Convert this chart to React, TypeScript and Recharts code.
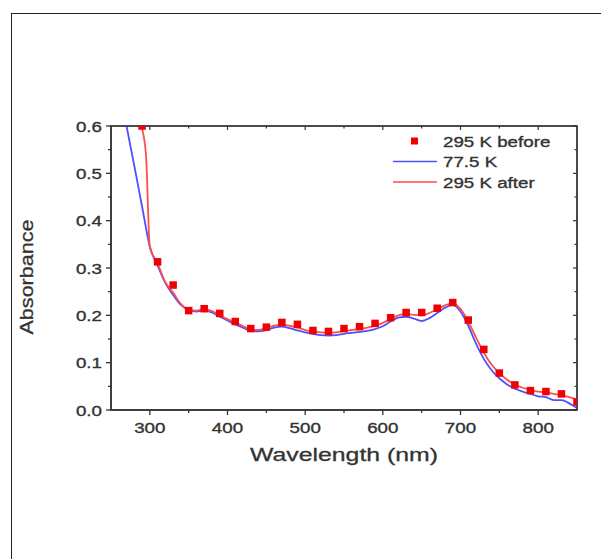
import { ComposedChart, Legend, Line, ReferenceArea, Scatter, XAxis, YAxis } from 'recharts'

// wavelength (nm) / absorbance
const beforeNm = [290, 310, 330, 350, 370, 390, 410, 430, 450, 470, 490, 510, 530, 550, 570, 590, 610, 630, 650, 670, 690, 710, 730, 750, 770, 790, 810, 830, 850]
const beforeAbs = [0.6, 0.313, 0.264, 0.21, 0.214, 0.204, 0.187, 0.172, 0.175, 0.185, 0.181, 0.168, 0.166, 0.172, 0.176, 0.183, 0.195, 0.206, 0.206, 0.215, 0.227, 0.19, 0.128, 0.078, 0.053, 0.041, 0.039, 0.034, 0.017]

const coldNm = [270, 280, 290, 300, 310, 320, 330, 340, 350, 360, 370, 380, 390, 400, 410, 420, 430, 440, 450, 460, 470, 480, 490, 500, 510, 520, 530, 540, 550, 560, 570, 580, 590, 600, 610, 620, 630, 640, 650, 660, 670, 680, 690, 700, 710, 720, 730, 740, 750, 760, 770, 780, 790, 800, 810, 820, 830, 840, 850]
const coldAbs = [0.6, 0.516, 0.43, 0.345, 0.305, 0.268, 0.243, 0.222, 0.211, 0.208, 0.21, 0.206, 0.197, 0.189, 0.181, 0.174, 0.167, 0.166, 0.169, 0.174, 0.176, 0.173, 0.168, 0.164, 0.161, 0.158, 0.157, 0.158, 0.161, 0.163, 0.165, 0.167, 0.171, 0.177, 0.187, 0.195, 0.197, 0.193, 0.188, 0.194, 0.205, 0.216, 0.222, 0.208, 0.178, 0.14, 0.108, 0.084, 0.067, 0.054, 0.045, 0.039, 0.034, 0.029, 0.027, 0.021, 0.021, 0.014, 0.004]

const afterNm = [289, 295, 300, 310, 320, 330, 340, 350, 360, 370, 380, 390, 400, 410, 420, 430, 440, 450, 460, 470, 480, 490, 500, 510, 520, 530, 540, 550, 560, 570, 580, 590, 600, 610, 620, 630, 640, 650, 660, 670, 680, 690, 700, 710, 720, 730, 740, 750, 760, 770, 780, 790, 800, 810, 820, 830, 840, 850]
const afterAbs = [0.6, 0.54, 0.345, 0.31, 0.27, 0.248, 0.224, 0.212, 0.21, 0.213, 0.209, 0.2, 0.192, 0.185, 0.177, 0.17, 0.169, 0.173, 0.178, 0.18, 0.178, 0.174, 0.169, 0.166, 0.164, 0.163, 0.164, 0.167, 0.169, 0.171, 0.174, 0.178, 0.184, 0.193, 0.2, 0.203, 0.201, 0.2, 0.205, 0.213, 0.221, 0.226, 0.214, 0.187, 0.153, 0.121, 0.096, 0.078, 0.064, 0.054, 0.047, 0.042, 0.039, 0.037, 0.034, 0.031, 0.027, 0.021]

const xTicks = [300, 350, 400, 450, 500, 550, 600, 650, 700, 750, 800]
const yTicks = [0, 0.05, 0.1, 0.15, 0.2, 0.25, 0.3, 0.35, 0.4, 0.45, 0.5, 0.55, 0.6]
const seriesNames = ['295 K before', '77.5 K', '295 K after']

const FONT = '"Liberation Sans", Arial, sans-serif'
const INK = '#333'
const RED_DOT = '#f00000'
const RED_LINE = '#ff4d4d'
const BLUE = '#5050ff'

const zip = (nm: number[], abs: number[]) => nm.map((v, i) => ({ nm: v, abs: abs[i] }))
const isMajorX = (v: number) => v % 100 === 0
const isMajorY = (v: number) => Math.round(v * 100) % 10 === 0

// the source image is a bit stretched sideways, so text gets scaleX
function Wide({ x, y, anchor, size, children }: any) {
  return (
    <g transform={`translate(${x},${y}) scale(1.25,1)`}>
      <text textAnchor={anchor} fontSize={size} fill={INK} stroke={INK} strokeWidth={0.35} fontFamily={FONT}>
        {children}
      </text>
    </g>
  )
}

function BottomTick({ x, y, payload }: any) {
  const major = isMajorX(payload.value)
  return (
    <g>
      <path d={`M${x},${y}V${y + (major ? 5 : 3)}`} stroke={INK} strokeWidth={1.3} fill="none" />
      {major && <Wide x={x} y={y + 23} anchor="middle" size={15}>{payload.value}</Wide>}
    </g>
  )
}

function TopTick({ x, y, payload }: any) {
  const major = isMajorX(payload.value)
  return <path d={`M${x},${y}V${y + (major ? 4 : 2.5)}`} stroke={INK} strokeWidth={1.2} fill="none" />
}

function LeftTick({ x, y, payload }: any) {
  const major = isMajorY(payload.value)
  return (
    <g>
      <path d={`M${x},${y}H${x - (major ? 5 : 3)}`} stroke={INK} strokeWidth={1.3} fill="none" />
      {major && <Wide x={x - 9} y={y + 5.5} anchor="end" size={15}>{payload.value.toFixed(1)}</Wide>}
    </g>
  )
}

function RightTick({ x, y, payload }: any) {
  const major = isMajorY(payload.value)
  return <path d={`M${x},${y}H${x - (major ? 4 : 2.5)}`} stroke={INK} strokeWidth={1.2} fill="none" />
}

function XTitle({ viewBox }: any) {
  const cx = viewBox ? viewBox.x + viewBox.width / 2 : 344
  return (
    <text x={cx} y={461} textAnchor="middle" fontSize={19} textLength={188} lengthAdjust="spacingAndGlyphs" fill={INK} stroke={INK} strokeWidth={0.3} fontFamily={FONT}>
      Wavelength (nm)
    </text>
  )
}

function YTitle() {
  return (
    <text x={33} y={277} transform="rotate(-90 33 277)" textAnchor="middle" fontSize={18} textLength={115} lengthAdjust="spacingAndGlyphs" fill={INK} stroke={INK} strokeWidth={0.3} fontFamily={FONT}>
      Absorbance
    </text>
  )
}

function SquareDot({ cx, cy }: any) {
  return <rect x={cx - 3.75} y={cy - 3.75} width={7.5} height={7.5} fill={RED_DOT} />
}

function LegendBox() {
  const rows = [13, 33.5, 54]
  return (
    <svg width={190} height={70}>
      <rect x={21} y={rows[0] - 3.5} width={7} height={7} fill={RED_DOT} />
      <line x1={3} x2={47} y1={rows[1]} y2={rows[1]} stroke={BLUE} strokeWidth={1.6} />
      <line x1={3} x2={47} y1={rows[2]} y2={rows[2]} stroke={RED_LINE} strokeWidth={1.6} />
      {seriesNames.map((name, i) => (
        <Wide key={name} x={53} y={rows[i] + 5.5} anchor="start" size={15}>{name}</Wide>
      ))}
    </svg>
  )
}

export default function App() {
  return (
    <div style={{ position: 'relative', width: 601, height: 559, overflow: 'hidden', background: '#fff' }}>
      <style>{'body{margin:0}'}</style>
      <div style={{ position: 'absolute', left: 11, top: 13, width: 640, height: 600, border: '1px solid #222' }} />
      <ComposedChart width={601} height={559} margin={{ top: 125, right: 23, bottom: 119, left: 51 }}>
        <XAxis
          xAxisId="bottom"
          dataKey="nm"
          type="number"
          domain={[250, 850]}
          ticks={xTicks}
          allowDataOverflow
          height={30}
          tickSize={0}
          tickMargin={0}
          tick={<BottomTick />}
          stroke={INK}
          axisLine={{ stroke: INK, strokeWidth: 1.5 }}
          label={<XTitle />}
        />
        <XAxis
          xAxisId="top"
          orientation="top"
          dataKey="nm"
          type="number"
          domain={[250, 850]}
          ticks={xTicks}
          allowDataOverflow
          height={1}
          tickSize={0}
          tickMargin={0}
          tick={<TopTick />}
          stroke={INK}
        />
        <YAxis
          yAxisId="left"
          dataKey="abs"
          type="number"
          domain={[0, 0.6]}
          ticks={yTicks}
          allowDataOverflow
          width={60}
          tickSize={0}
          tickMargin={0}
          tick={<LeftTick />}
          stroke={INK}
          axisLine={{ stroke: INK, strokeWidth: 1.5 }}
          label={<YTitle />}
        />
        <YAxis
          yAxisId="right"
          orientation="right"
          dataKey="abs"
          type="number"
          domain={[0, 0.6]}
          ticks={yTicks}
          allowDataOverflow
          width={1}
          tickSize={0}
          tickMargin={0}
          tick={<RightTick />}
          stroke={INK}
        />
        <ReferenceArea
          xAxisId="bottom"
          yAxisId="left"
          x1={250}
          x2={850}
          y1={0}
          y2={0.6}
          fill="none"
          stroke={INK}
          strokeWidth={1.5}
          fillOpacity={0}
          ifOverflow="visible"
        />
        <Legend
          layout="vertical"
          align="center"
          verticalAlign="middle"
          content={<LegendBox />}
          wrapperStyle={{ left: 390, top: 128, width: 190, height: 70 }}
        />
        <Line
          xAxisId="bottom"
          yAxisId="left"
          data={zip(coldNm, coldAbs)}
          dataKey="abs"
          name={seriesNames[1]}
          type="monotone"
          stroke={BLUE}
          strokeWidth={1.8}
          dot={false}
          isAnimationActive={false}
        />
        <Line
          xAxisId="bottom"
          yAxisId="left"
          data={zip(afterNm, afterAbs)}
          dataKey="abs"
          name={seriesNames[2]}
          type="monotone"
          stroke={RED_LINE}
          strokeWidth={1.8}
          dot={false}
          isAnimationActive={false}
        />
        <Scatter
          xAxisId="bottom"
          yAxisId="left"
          data={zip(beforeNm, beforeAbs)}
          dataKey="abs"
          name={seriesNames[0]}
          shape={<SquareDot />}
          isAnimationActive={false}
        />
      </ComposedChart>
    </div>
  )
}
